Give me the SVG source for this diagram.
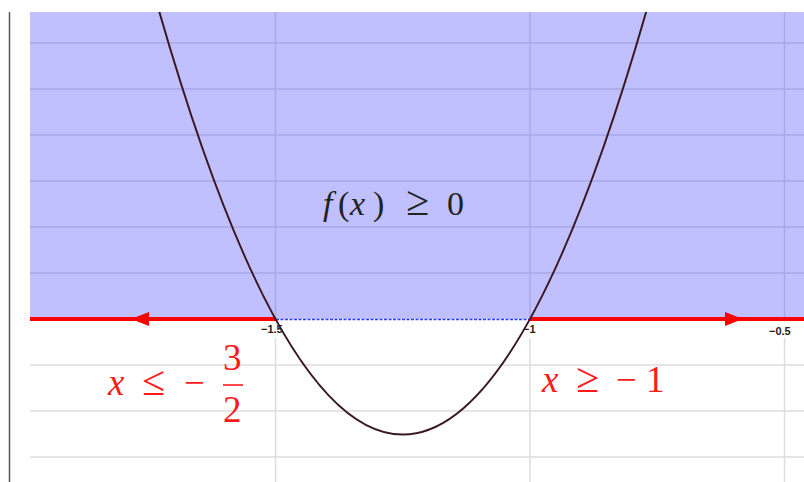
<svg xmlns="http://www.w3.org/2000/svg" width="804" height="482" viewBox="0 0 804 482">
<defs>
<style>
.gridB{stroke:#a9a9e8;stroke-width:1.5}
.gridW{stroke:#dddddd;stroke-width:1.5}
.tick{font-size:11px;font-weight:bold;fill:#222}
.math{font-size:37px;fill:#ff1a1a}
.mathB{font-size:34px;fill:#222}
.rel{font-size:42px}
.it{font-style:italic}
</style>
<clipPath id="plotClip"><rect x="0" y="12" width="804" height="470"/></clipPath>
</defs>
<rect x="0" y="0" width="804" height="482" fill="#ffffff"/>
<g id="shaded-region">
<rect x="30" y="12" width="774" height="307" fill="#c0c0ff"/>
<g class="gridB">
<line x1="30" y1="43" x2="804" y2="43"/>
<line x1="30" y1="89" x2="804" y2="89"/>
<line x1="30" y1="135" x2="804" y2="135"/>
<line x1="30" y1="181" x2="804" y2="181"/>
<line x1="30" y1="227" x2="804" y2="227"/>
<line x1="30" y1="273" x2="804" y2="273"/>
<line x1="275.5" y1="12" x2="275.5" y2="319"/>
<line x1="530" y1="12" x2="530" y2="319"/>
<line x1="784.5" y1="12" x2="784.5" y2="319"/>
</g>
</g>
<g id="lower-grid" class="gridW">
<line x1="30" y1="365" x2="804" y2="365"/>
<line x1="30" y1="411" x2="804" y2="411"/>
<line x1="30" y1="457" x2="804" y2="457"/>
<line x1="275.5" y1="338" x2="275.5" y2="482"/>
<line x1="530" y1="338" x2="530" y2="482"/>
<line x1="784.5" y1="338" x2="784.5" y2="482"/>
</g>
<g id="left-axis">
<line x1="9.5" y1="12" x2="9.5" y2="482" stroke="#555" stroke-width="1.5"/>
</g>
<g id="connectors">
<line x1="30" y1="319" x2="276" y2="319" stroke="#ff0000" stroke-width="4"/>
<line x1="530" y1="319" x2="804" y2="319" stroke="#ff0000" stroke-width="4"/>
<line x1="276" y1="319.5" x2="530" y2="319.5" stroke="#2a3cff" stroke-width="1.5" stroke-dasharray="3 1.5"/>
<polygon points="131,319 149,312 149,326" fill="#ff0000"/>
<polygon points="743,319 725,312 725,326" fill="#ff0000"/>
</g>
<g id="parabola" clip-path="url(#plotClip)">
<path d="M150,-21.2 Q402.75,890.2 655.5,-21.2" fill="none" stroke="#3a1822" stroke-width="2"/>
</g>
<g id="tick-labels" font-family="Liberation Sans, Arial, sans-serif">
<text class="tick" x="261" y="333">−1.5</text>
<text class="tick" x="523" y="333">−1</text>
<text class="tick" x="769" y="335">−0.5</text>
</g>
<g id="label-f" font-family="Liberation Serif, DejaVu Serif, serif">
<text class="mathB" y="215"><tspan x="323" class="it">f</tspan><tspan x="338">(</tspan><tspan x="350" class="it">x</tspan><tspan x="373">)</tspan><tspan x="406" class="rel">≥</tspan><tspan x="447">0</tspan></text>
</g>
<g id="label-left" font-family="Liberation Serif, DejaVu Serif, serif">
<text class="math" y="395"><tspan x="108" class="it">x</tspan><tspan x="142" class="rel">≤</tspan><tspan x="184">−</tspan></text>
<text class="math" x="223" y="370">3</text>
<line x1="223" y1="385" x2="243" y2="385" stroke="#ff1a1a" stroke-width="1.6"/>
<text class="math" x="223" y="422">2</text>
</g>
<g id="label-right" font-family="Liberation Serif, DejaVu Serif, serif">
<text class="math" y="392"><tspan x="542" class="it">x</tspan><tspan x="576" class="rel">≥</tspan><tspan x="616">−</tspan><tspan x="646">1</tspan></text>
</g>
</svg>
